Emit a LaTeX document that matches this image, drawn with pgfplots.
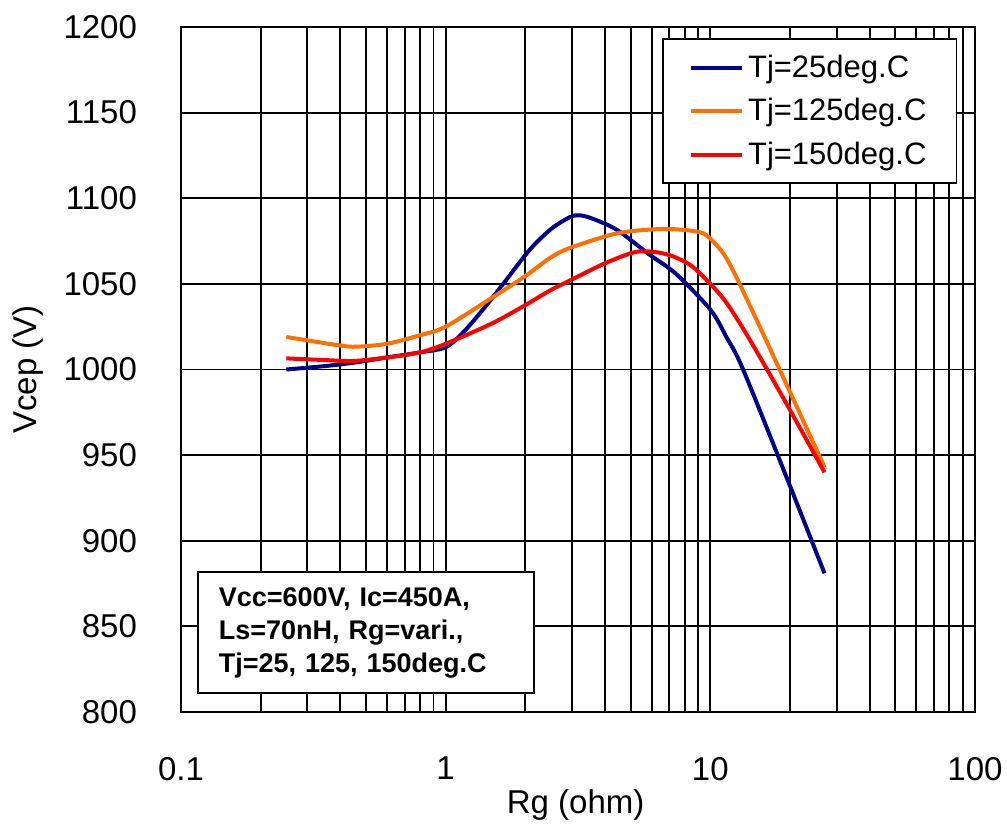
\documentclass[border=0pt]{standalone}
\usepackage{pgfplots}
\pgfplotsset{compat=1.18}
\usepackage{fontspec}
\setmainfont{Liberation Sans}
\definecolor{cnavy}{RGB}{0,0,140}
\definecolor{corange}{RGB}{255,112,0}
\definecolor{cred}{RGB}{255,0,0}
\begin{document}
\begin{tikzpicture}
\begin{axis}[
  scale only axis,
  width=397pt, height=342.5pt,
  xmode=log, xmin=0.1, xmax=100,
  ymin=800, ymax=1200,
  xtick={0.1,1,10,100}, xticklabels={0.1,1,10,100},
  minor xtick={0.2,0.3,0.4,0.5,0.6,0.7,0.8,0.9,2,3,4,5,6,7,8,9,20,30,40,50,60,70,80,90},
  ytick={800,850,...,1200},
  yticklabels={800,850,900,950,1000,1050,1100,1150,1200},
  /pgf/number format/assume math mode=true,
  tick label style={font=\fontsize{16.5}{18}\selectfont},
  major tick length=0pt, minor tick length=0pt,
  xmajorgrids, xminorgrids, ymajorgrids,
  grid style={black, line width=0.9pt},
  minor grid style={black, line width=0.9pt},
  axis line style={black, line width=1.4pt},
  yticklabel shift=18.5pt,
  xticklabel shift=19pt,
  xlabel={Rg (ohm)}, ylabel={Vcep (V)},
  label style={font=\fontsize{16.5}{18}\selectfont},
  xlabel style={at={(axis description cs:0.497,-0.136)}, anchor=center},
  ylabel style={at={(axis description cs:-0.193,0.5)}, anchor=center},
  legend cell align=left,
  legend style={at={(rel axis cs:0.606,0.984)}, anchor=north west,
    draw=black, line width=0.9pt, font=\fontsize{15.5}{17}\selectfont,
    row sep=5pt, inner xsep=13pt, inner ysep=6pt},
  legend image code/.code={\draw[#1, line width=2pt] (0pt,0pt) -- (25.5pt,0pt);},
]
\addplot[cnavy, line width=2pt, smooth] coordinates {
(0.25,1000) (0.35,1002) (0.45,1004) (0.6,1007) (0.8,1010) (1.0,1013)
(1.17,1022) (1.4,1036) (1.65,1050) (2.08,1070) (2.5,1082) (2.95,1089)
(3.22,1090) (3.6,1088) (4.44,1081.5) (5.9,1067) (7.4,1056) (10,1035)
(11.5,1019) (13.3,1000) (20,932) (27,881)};
\addlegendentry{Tj=25deg.C}
\addplot[corange, line width=2pt, smooth] coordinates {
(0.25,1019) (0.3,1017) (0.4,1014) (0.46,1013.3) (0.6,1015) (0.8,1020)
(1.0,1025) (1.5,1042) (2.02,1055) (2.47,1065) (2.95,1071) (4.44,1079.5)
(6.4,1082) (7.95,1081.5) (9.4,1079.5) (10.5,1073) (11.5,1065) (12.9,1050)
(17,1010.5) (27,943)};
\addlegendentry{Tj=125deg.C}
\addplot[cred, line width=2pt, smooth] coordinates {
(0.25,1006.5) (0.35,1005.5) (0.45,1005) (0.6,1007) (0.8,1010) (1.0,1015)
(1.5,1027) (2.02,1038) (2.47,1046) (2.95,1052) (4,1062) (5.3,1068.8)
(6.8,1067.4) (8.4,1061) (10,1050) (11.5,1039) (13.9,1019) (19,982.5)
(27,940)};
\addlegendentry{Tj=150deg.C}
\node[draw=black, line width=0.9pt, fill=white, anchor=south west,
  text width=147pt, minimum height=60.5pt, inner xsep=10.5pt,
  align=left, font=\fontsize{13.5}{16.5}\selectfont\bfseries]
  at (rel axis cs:0.02,0.026) {Vcc=600V, Ic=450A,\\Ls=70nH, Rg=vari.,\\Tj=25, 125, 150deg.C};
\end{axis}
\path (current axis.south west) ++(-90.5pt,-57pt) coordinate (bbA);
\path (current axis.north east) ++(16pt,13.5pt) coordinate (bbB);
\pgfresetboundingbox
\path (bbA) rectangle (bbB);
\end{tikzpicture}
\end{document}
